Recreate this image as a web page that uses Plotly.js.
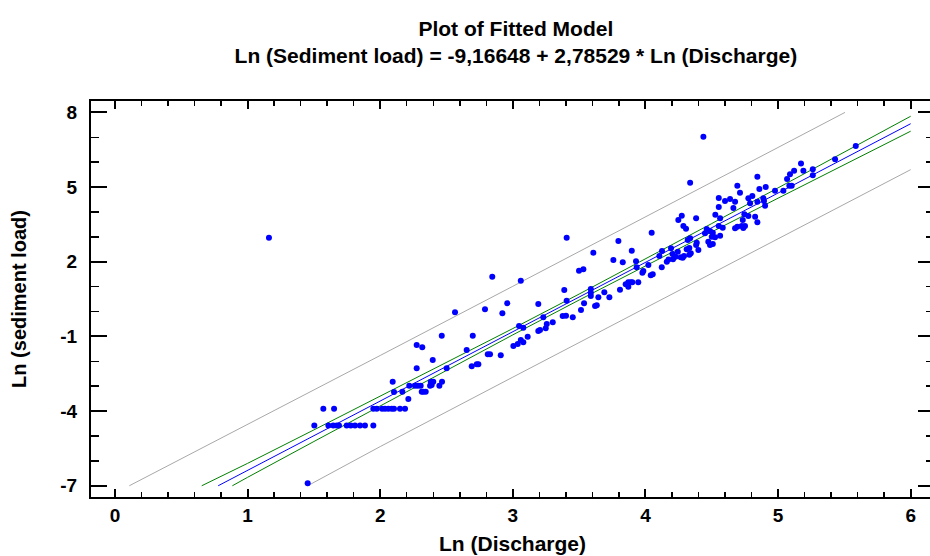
<!DOCTYPE html>
<html><head><meta charset="utf-8">
<script src="https://cdn.plot.ly/plotly-3.0.1.min.js"></script>
<style>html,body{margin:0;padding:0;overflow:hidden;background:#fff}</style>
</head><body><div id="chart" style="width:935px;height:556px"></div>
<script>
// Observed data: Ln(Discharge) vs Ln(sediment load)
const lnDischarge = [
1.161, 1.453,
1.503, 1.609, 1.646, 1.672, 1.689, 1.747, 1.778, 1.810, 1.848, 1.885, 1.948,
1.571, 1.652, 1.948, 1.974, 2.014, 2.036, 2.061, 2.087, 2.104, 2.149, 2.187,
2.094, 2.104, 2.167, 2.212, 2.219, 2.262, 2.283, 2.305, 2.275, 2.313,
2.325, 2.343, 2.376, 2.388, 2.446, 2.381, 2.400, 2.466, 2.396, 2.501,
2.275, 2.317, 2.464, 2.564, 2.652, 2.690, 2.728, 2.740, 2.698, 2.790,
2.845, 2.921, 2.958, 3.060, 2.811, 2.828, 2.909, 3.004, 3.037, 3.060,
3.079, 3.112, 3.047, 3.079, 3.192, 3.230, 3.192, 3.205, 3.256, 3.248,
3.301, 3.376, 3.401, 3.452, 3.406, 3.388, 3.514, 3.537, 3.588, 3.588,
3.588, 3.620, 3.633, 3.645, 3.690, 3.728, 3.499, 3.532, 3.607, 3.758,
3.829, 3.897, 3.929, 3.934, 3.808, 3.851, 3.871, 3.889, 3.901, 3.871,
3.946, 3.984, 3.977, 4.022, 4.040, 4.055, 3.406, 3.796, 4.047,
4.105, 4.123, 4.125, 4.161, 4.174, 4.193, 4.204, 4.208, 4.227, 4.244,
4.437, 4.337, 4.693, 4.844, 4.713, 4.859, 4.907, 4.977, 5.040, 5.068,
5.090, 5.121, 5.173, 5.085, 5.103, 5.191, 5.262, 5.262, 5.430, 5.586,
4.553, 4.600, 4.638, 4.676, 4.553, 4.663, 4.776, 4.806, 4.789, 4.844,
4.889, 4.894, 4.902, 4.527, 4.563, 4.746, 4.776, 4.827, 4.734, 4.844,
4.248, 4.274, 4.382, 4.286, 4.306, 4.583, 4.553, 4.676, 4.693, 4.726,
4.738, 4.751, 4.462, 4.487, 4.508, 4.525, 4.500, 4.563, 4.474, 4.487,
4.508, 4.449, 4.337, 4.319, 4.387, 4.382, 4.399, 4.311, 4.331, 4.342,
4.331, 4.291, 4.281, 4.266
];
const lnSediment = [
2.966, -6.902,
-4.58, -4.58, -4.58, -4.58, -4.58, -4.58, -4.58, -4.58, -4.58, -4.58, -4.58,
-3.91, -3.91, -3.91, -3.91, -3.91, -3.91, -3.91, -3.91, -3.91, -3.91, -3.91,
-2.820, -3.233, -3.221, -3.515, -2.980, -2.980, -2.980, -2.980, -2.281, -3.221,
-3.221, -3.221, -2.980, -2.952, -2.980, -2.820, -2.820, -2.820, -1.948, -2.281,
-1.345, -1.438, -0.972, -0.031, -1.546, -2.201, -2.121, -2.121, -0.972, 0.089,
1.399, -0.072, 0.330, 1.238, -1.719, -1.719, -1.759, -1.385, -1.305, -1.144,
-1.237, -1.012, -0.582, -0.650, 0.302, -0.232, -0.783, -0.743, -0.501, -0.674,
-0.433, -0.180, -0.168, -0.232, 0.435, 0.865, 0.061, 0.330, 0.905, 0.756,
0.623, 0.222, 0.250, 0.571, 0.772, 0.571, 1.640, 1.696, 2.363, 2.070,
1.978, 2.444, 2.018, 1.777, 0.873, 1.094, 1.174, 1.174, 1.174, 0.997,
1.174, 1.628, 1.560, 1.869, 1.455, 1.495, 2.966, 2.833, 3.167,
2.231, 1.777, 2.431, 2.002, 2.090, 2.540, 2.311, 2.098, 2.202, 2.403,
7.024, 5.176, 5.055, 5.417, 4.774, 4.923, 5.003, 4.854, 4.854, 5.324,
5.513, 5.658, 5.947, 5.055, 5.055, 5.658, 5.714, 5.473, 6.116, 6.650,
4.561, 4.440, 4.521, 4.412, 4.199, 4.159, 4.549, 4.641, 4.348, 4.412,
4.549, 4.440, 4.252, 3.890, 3.745, 3.906, 3.838, 3.810, 3.677, 3.585,
3.677, 3.850, 3.745, 3.436, 3.327, 3.368, 3.436, 3.343, 3.408, 3.436,
3.356, 3.436, 3.315, 3.235, 3.167, 2.982, 3.006, 3.046, 2.805, 2.673,
2.713, 3.143, 2.942, 2.873, 2.765, 2.673, 2.472, 2.500, 2.552, 2.339,
2.283, 2.231, 2.162, 2.178
];

// Fitted line (read at its ends)
const fitX = [0.778, 6.0];
const fitY = [-7.0, 7.545];

// Confidence limits for the mean (green)
const confUpperX = [0.654, 1.0, 1.5, 2.0, 2.5, 3.0, 3.5, 4.0, 4.5, 5.0, 5.5, 6.0];
const confUpperY = [-7.0, -6.10, -4.756, -3.406, -2.05, -0.684, 0.702, 2.111, 3.534, 4.967, 6.405, 7.845];
const confLowerX = [0.885, 1.0, 1.5, 2.0, 2.5, 3.0, 3.5, 4.0, 4.5, 5.0, 5.5, 6.0];
const confLowerY = [-7.0, -6.661, -5.222, -3.786, -2.356, -0.938, 0.462, 1.839, 3.200, 4.553, 5.901, 7.245];

// Prediction limits (gray)
const predUpperX = [0.108, 1.0, 2.0, 3.0, 4.0, 5.0, 5.505];
const predUpperY = [-7.0, -4.541, -1.766, 1.014, 3.80, 6.59, 8.0];
const predLowerX = [1.453, 2.0, 3.0, 4.0, 5.0, 6.0];
const predLowerY = [-7.0, -5.426, -2.636, 0.15, 2.93, 5.70];

// Axis ticks
const xTicks = [0, 1, 2, 3, 4, 5, 6];
const yTicks = [-7, -4, -1, 2, 5, 8];

const FONT = 'Liberation Sans, Arial, sans-serif';

const lineTrace = (x, y, color) => ({
  x, y, type: 'scatter', mode: 'lines',
  line: {color, width: 1}, hoverinfo: 'skip', showlegend: false
});

const traces = [
  lineTrace(predUpperX, predUpperY, '#a8a8a8'),
  lineTrace(predLowerX, predLowerY, '#a8a8a8'),
  lineTrace(confUpperX, confUpperY, '#008000'),
  lineTrace(confLowerX, confLowerY, '#008000'),
  lineTrace(fitX, fitY, '#0000ff'),
  {
    x: lnDischarge, y: lnSediment, type: 'scatter', mode: 'markers',
    marker: {color: '#0000ff', size: 6, line: {width: 0}}, showlegend: false
  }
];

const axisTitleFont = {family: FONT, size: 20, color: '#000', weight: 'bold'};
const axisCommon = {
  showline: true, linecolor: '#000', linewidth: 2, mirror: 'allticks',
  ticks: 'inside', ticklen: 16, tickwidth: 2, tickcolor: '#000',
  showgrid: false, zeroline: false,
  tickfont: {family: FONT, size: 19, color: '#000', weight: 'bold'}
};

const layout = {
  width: 935, height: 556,
  margin: {l: 91, r: 1, t: 101, b: 59},
  paper_bgcolor: '#fff', plot_bgcolor: '#fff',
  showlegend: false,
  title: {
    text: 'Plot of Fitted Model<br>Ln (Sediment load) = -9,16648 + 2,78529 * Ln (Discharge)',
    font: {family: FONT, size: 21, color: '#000', weight: 'bold'},
    x: 0.504, xref: 'paper', xanchor: 'center', y: 0.936, yref: 'container', yanchor: 'top'
  },
  xaxis: Object.assign({}, axisCommon, {
    range: [-0.181, 6.176], tickvals: xTicks, ticktext: xTicks.map(String),
    ticklen: 8, ticklabelstandoff: 0,
    minor: {dtick: 0.2, tick0: 0, ticks: 'inside', ticklen: 5, tickwidth: 1.5, tickcolor: '#000', showgrid: false},
    title: {text: 'Ln (Discharge)', standoff: 12, font: Object.assign({}, axisTitleFont, {size: 21})}
  }),
  yaxis: Object.assign({}, axisCommon, {
    range: [-7.452, 8.458], tickvals: yTicks, ticktext: yTicks.map(String),
    ticklabelstandoff: 8,
    minor: {dtick: 1, tick0: 0, ticks: 'inside', ticklen: 8, tickwidth: 1.5, tickcolor: '#000', showgrid: false},
    title: {text: 'Ln (sediment load)', standoff: 28, font: axisTitleFont}
  })
};

Plotly.newPlot('chart', traces, layout, {displayModeBar: false, staticPlot: true});
</script></body></html>
